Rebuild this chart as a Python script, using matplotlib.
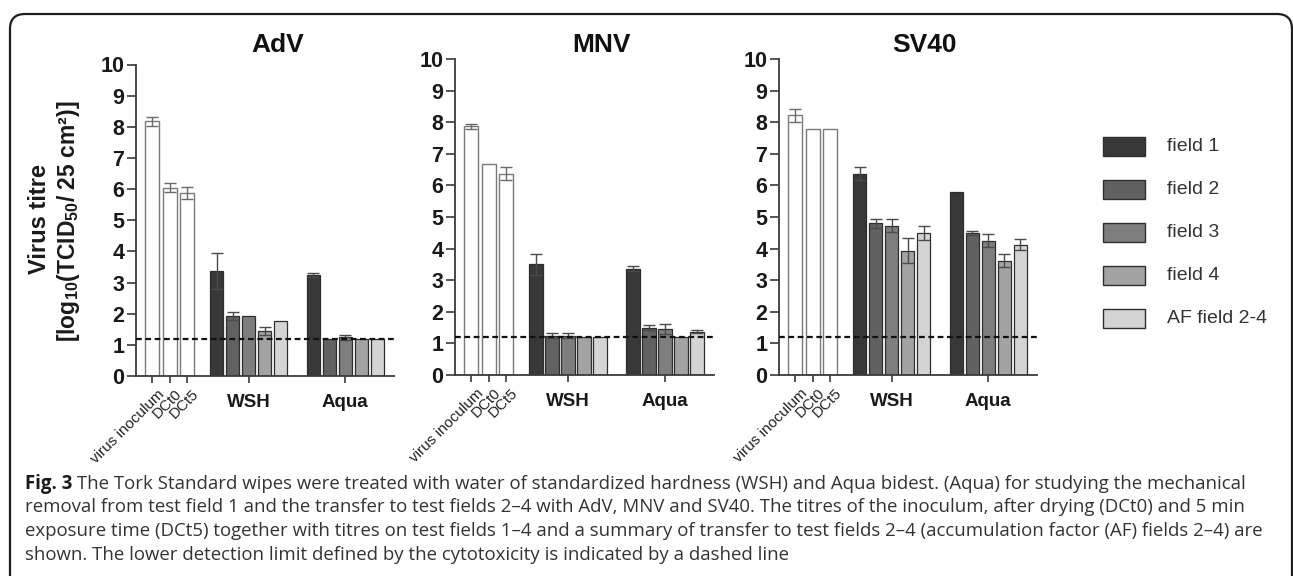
import numpy as np
import matplotlib
matplotlib.use("Agg")
import matplotlib.pyplot as plt
from matplotlib.patches import Rectangle, FancyBboxPatch
from matplotlib.transforms import IdentityTransform

plt.rcParams['font.family'] = ['Liberation Sans', 'DejaVu Sans']
plt.rcParams['mathtext.fontset'] = 'custom'
plt.rcParams['mathtext.rm'] = 'Liberation Sans'
plt.rcParams['mathtext.bf'] = 'Liberation Sans:bold'

# ---------------- data ----------------
viruses = ['AdV', 'MNV', 'SV40']
controls = ['virus inoculum', 'DCt0', 'DCt5']
treatments = ['WSH', 'Aqua']
fields = ['field 1', 'field 2', 'field 3', 'field 4', 'AF field 2-4']

adv_ctrl = [8.18, 6.05, 5.87]
adv_ctrl_err = [0.14, 0.15, 0.20]
adv_wsh = [3.37, 1.93, 1.93, 1.45, 1.77]
adv_wsh_err = [0.58, 0.13, 0.0, 0.12, 0.0]
adv_aqua = [3.25, 1.20, 1.25, 1.20, 1.20]
adv_aqua_err = [0.06, 0.0, 0.08, 0.0, 0.0]

mnv_ctrl = [7.87, 6.67, 6.37]
mnv_ctrl_err = [0.07, 0.0, 0.20]
mnv_wsh = [3.50, 1.25, 1.25, 1.20, 1.20]
mnv_wsh_err = [0.33, 0.08, 0.08, 0.0, 0.0]
mnv_aqua = [3.37, 1.50, 1.45, 1.20, 1.37]
mnv_aqua_err = [0.08, 0.08, 0.15, 0.0, 0.04]

sv40_ctrl = [8.22, 7.80, 7.80]
sv40_ctrl_err = [0.20, 0.0, 0.0]
sv40_wsh = [6.37, 4.80, 4.73, 3.93, 4.50]
sv40_wsh_err = [0.20, 0.15, 0.20, 0.40, 0.23]
sv40_aqua = [5.80, 4.50, 4.25, 3.62, 4.12]
sv40_aqua_err = [0.0, 0.06, 0.20, 0.20, 0.17]

detection_limit = 1.2

caption_bold = 'Fig. 3'
caption_lines = [
    ' The Tork Standard wipes were treated with water of standardized hardness (WSH) and Aqua bidest. (Aqua) for studying the mechanical',
    'removal from test field 1 and the transfer to test fields 2\u20134 with AdV, MNV and SV40. The titres of the inoculum, after drying (DCt0) and 5 min',
    'exposure time (DCt5) together with titres on test fields 1\u20134 and a summary of transfer to test fields 2\u20134 (accumulation factor (AF) fields 2\u20134) are',
    'shown. The lower detection limit defined by the cytotoxicity is indicated by a dashed line',
]

# ---------------- styling ----------------
field_colors = ['#383838', '#616161', '#7e7e7e', '#a3a3a3', '#d4d4d4']
W, H = 1293, 576
fig = plt.figure(figsize=(W / 100, H / 100), dpi=100)

def fx(x):
    return x / W

def fy(y):
    return 1 - y / H

ctrl_pos = np.array([1.0, 2.1, 3.18])
group_centers = [7.05, 13.1]
offsets = np.arange(-2, 3)

panels = [
    (viruses[0], adv_ctrl, adv_ctrl_err, [adv_wsh, adv_aqua], [adv_wsh_err, adv_aqua_err], (136, 376, 394, 64.5), 278),
    (viruses[1], mnv_ctrl, mnv_ctrl_err, [mnv_wsh, mnv_aqua], [mnv_wsh_err, mnv_aqua_err], (455, 375, 714, 59), 602),
    (viruses[2], sv40_ctrl, sv40_ctrl_err, [sv40_wsh, sv40_aqua], [sv40_wsh_err, sv40_aqua_err], (779, 375, 1037, 59), 924),
]

spine_c = '#3a3a3a'
err_c = '#4a4a4a'

for name, ctrl, ctrl_err, grp, grp_err, (x0, y0, x1, y1), tx in panels:
    ax = fig.add_axes([fx(x0), fy(y0), fx(x1) - fx(x0), fy(y1) - fy(y0)])
    ax.bar(ctrl_pos, ctrl, width=0.88, color='white', edgecolor='#7a7a7a', linewidth=1.0, zorder=2)
    ce = np.array(ctrl_err)
    m = ce > 0
    ax.errorbar(ctrl_pos[m], np.array(ctrl)[m], yerr=ce[m], fmt='none', ecolor='#6a6a6a',
                elinewidth=1.0, capsize=4, capthick=1.0, zorder=3)
    for gc, vals, errs in zip(group_centers, grp, grp_err):
        pos = gc + offsets
        ax.bar(pos, vals, width=0.84, color=field_colors, edgecolor='#2e2e2e', linewidth=0.9, zorder=2)
        e = np.array(errs)
        m = e > 0
        ax.errorbar(pos[m], np.array(vals)[m], yerr=e[m], fmt='none', ecolor=err_c,
                    elinewidth=1.0, capsize=4, capthick=1.0, zorder=3)
    ax.axhline(detection_limit, color='#111111', lw=1.6, dashes=(2.6, 1.6), zorder=4)
    ax.set_xlim(0, 16.15)
    ax.set_ylim(0, 10)
    ax.set_yticks(range(0, 11))
    ax.set_yticklabels([str(i) for i in range(0, 11)], fontsize=15.5, fontweight='bold', color='#1a1a1a')
    ax.set_xticks(list(ctrl_pos) + group_centers)
    ax.set_xticklabels([])
    ax.tick_params(axis='y', length=6.5, width=1.2, pad=2, color=spine_c)
    ax.tick_params(axis='x', length=5, width=1.2, color=spine_c)
    for s in ['top', 'right']:
        ax.spines[s].set_visible(False)
    for s in ['left', 'bottom']:
        ax.spines[s].set_color(spine_c)
        ax.spines[s].set_linewidth(1.3)
    ax.patch.set_alpha(0)
    for p, lab in zip(ctrl_pos, controls):
        ax.annotate(lab, xy=(p, 0), xycoords=('data', 'axes fraction'), xytext=(3.5, -8),
                    textcoords='offset points', rotation=45, rotation_mode='anchor',
                    ha='right', va='top', fontsize=11, color='#222222')
    for gc, lab in zip(group_centers, treatments):
        ax.annotate(lab, xy=(gc, 0), xycoords=('data', 'axes fraction'), xytext=(0, -13),
                    textcoords='offset points', ha='center', va='top', fontsize=13.5,
                    fontweight='bold', color='#1a1a1a')
    fig.text(fx(tx), fy(52), name, ha='center', va='baseline', fontsize=19, fontweight='bold', color='#111111')

# y label (two lines)
fig.text(fx(40), fy(219), 'Virus titre', rotation=90, ha='center', va='center',
         fontsize=17, fontweight='bold', color='#1a1a1a')
fig.text(fx(68), fy(221), r'[log$_{\mathbf{10}}$(TCID$_{\mathbf{50}}$/ 25 cm²)]', rotation=90,
         ha='center', va='center', fontsize=16.5, fontweight='bold', color='#1a1a1a')

# legend
leg_y = [146.7, 189.3, 232.3, 275, 318.3]
for c, lab, yc in zip(field_colors, fields, leg_y):
    fig.add_artist(Rectangle((fx(1103), fy(yc + 9.5)), fx(42), 19 / H, facecolor=c,
                             edgecolor='#2e2e2e', linewidth=1.0, transform=fig.transFigure))
    fig.text(fx(1167), fy(yc), lab, ha='left', va='center', fontsize=14, color='#333333')

# outer box
box = FancyBboxPatch((10, -80), 1282, (H - 14) + 80, boxstyle='round,pad=0,rounding_size=15',
                     transform=IdentityTransform(), fill=False, edgecolor='#1e1e1e', linewidth=1.6)
fig.add_artist(box)

# caption
cap_font = ['Open Sans', 'DejaVu Sans']
cap_size = 13.4
baselines = [489, 512.5, 536, 559.5]
t0 = fig.text(fx(25), fy(baselines[0]), caption_bold, ha='left', va='baseline', fontsize=cap_size,
              fontweight='bold', family=cap_font, color='#1a1a1a')
fig.canvas.draw()
bb = t0.get_window_extent()
fig.text(bb.x1 / W, fy(baselines[0]), caption_lines[0], ha='left', va='baseline', fontsize=cap_size,
         family=cap_font, color='#333333')
for line, yb in zip(caption_lines[1:], baselines[1:]):
    fig.text(fx(25), fy(yb), line, ha='left', va='baseline', fontsize=cap_size,
             family=cap_font, color='#333333')

fig.savefig('out.png', dpi=100)
